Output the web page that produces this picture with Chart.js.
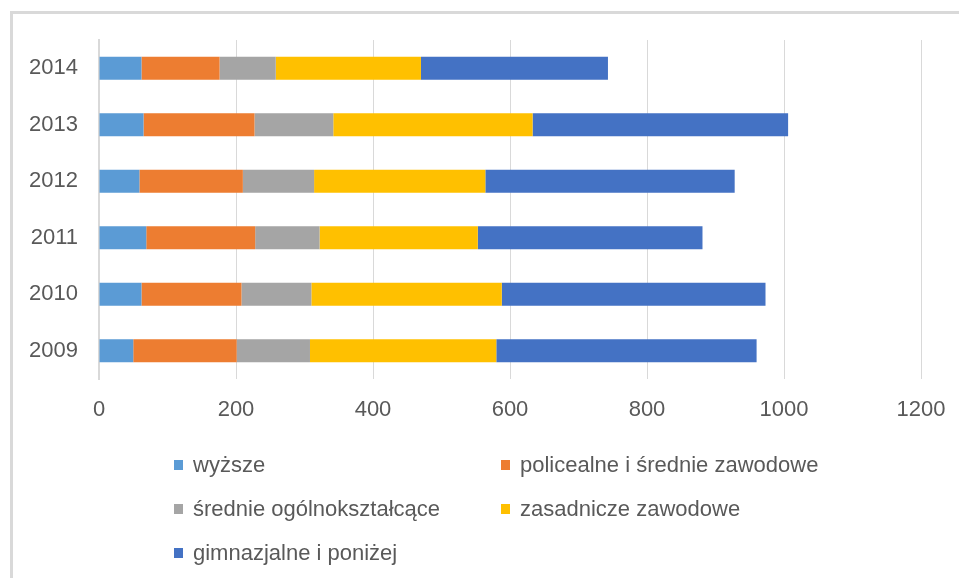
<!DOCTYPE html>
<html>
<head>
<meta charset="utf-8">
<script src="https://cdn.jsdelivr.net/npm/chart.js@4"></script>
<style>
    body { margin: 0; background: #fff; }
    .wrap { position: relative; width: 959px; height: 578px; overflow: hidden; }
    .frame { position: absolute; left: 10px; top: 11px; width: 980px; height: 600px;
             border-left: 3px solid #d9d9d9; border-top: 3px solid #d9d9d9; }
    canvas { position: absolute; left: 0; top: 0; }
    .legend-item { position: absolute; font-family: "Liberation Sans", Arial, sans-serif;
                   font-size: 22px; color: #595959; white-space: nowrap; line-height: 26px; }
    .legend-item span.box { position: absolute; width: 9px; height: 10px; left: 0; top: 8px; }
    .legend-item span.txt { position: absolute; left: 19px; top: 0; }
</style>
</head>
<body>
<div class="wrap">
    <div class="frame"></div>
    <canvas id="chart" width="959" height="578"></canvas>
    <div id="legend"></div>
</div>
<script>
// dane
const years = ['2009', '2010', '2011', '2012', '2013', '2014'];
const wyzsze = [50, 62, 69, 59, 65, 62];
const policealne = [151, 146, 159, 151, 162, 114];
const srednieOgolne = [107, 102, 94, 104, 115, 82];
const zasadnicze = [272, 278, 231, 250, 291, 212];
const gimnazjalne = [380, 385, 328, 364, 373, 273];
const xTicks = [0, 200, 400, 600, 800, 1000, 1200];

const seriesNames = ['wyższe', 'policealne i średnie zawodowe', 'średnie ogólnokształcące', 'zasadnicze zawodowe', 'gimnazjalne i poniżej'];
const seriesData = [wyzsze, policealne, srednieOgolne, zasadnicze, gimnazjalne];
const seriesColors = ['#5b9bd5', '#ed7d31', '#a5a5a5', '#ffc000', '#4472c4'];

const font = { family: '"Liberation Sans", Arial, sans-serif', size: 22 };

const ctx = document.getElementById('chart').getContext('2d');
new Chart(ctx, {
    type: 'bar',
    data: {
        labels: years,
        datasets: seriesNames.map((name, i) => ({
            label: name,
            data: seriesData[i],
            backgroundColor: seriesColors[i],
            borderWidth: 0,
            barPercentage: 0.41,
            categoryPercentage: 1
        }))
    },
    options: {
        indexAxis: 'y',
        responsive: false,
        animation: false,
        devicePixelRatio: 1,
        layout: { padding: { left: 29, right: 38, top: 40, bottom: 155 } },
        plugins: { legend: { display: false }, tooltip: { enabled: false } },
        scales: {
            x: {
                stacked: true,
                min: 0,
                max: 1200,
                afterBuildTicks: scale => { scale.ticks = xTicks.map(v => ({ value: v })); },
                afterFit: scale => { scale.height = 44; scale.paddingLeft = 0; scale.paddingRight = 0; },
                grid: { color: '#d9d9d9', lineWidth: 1, drawTicks: false },
                border: { display: false },
                ticks: { color: '#595959', font: font, padding: 18, callback: v => String(v) }
            },
            y: {
                stacked: true,
                reverse: true,
                afterFit: scale => { scale.width = 70; },
                grid: { display: false, drawTicks: false },
                border: { display: true, color: '#d9d9d9', width: 2 },
                ticks: { color: '#595959', font: font, padding: 21 }
            }
        }
    }
});

// legenda w dwóch kolumnach
const legendPos = [[174, 452], [501, 452], [174, 496], [501, 496], [174, 540]];
const legend = document.getElementById('legend');
seriesNames.forEach((name, i) => {
    const item = document.createElement('div');
    item.className = 'legend-item';
    item.style.left = legendPos[i][0] + 'px';
    item.style.top = legendPos[i][1] + 'px';
    item.innerHTML = '<span class="box" style="background:' + seriesColors[i] + '"></span><span class="txt"></span>';
    item.querySelector('.txt').textContent = name;
    legend.appendChild(item);
});
</script>
</body>
</html>
